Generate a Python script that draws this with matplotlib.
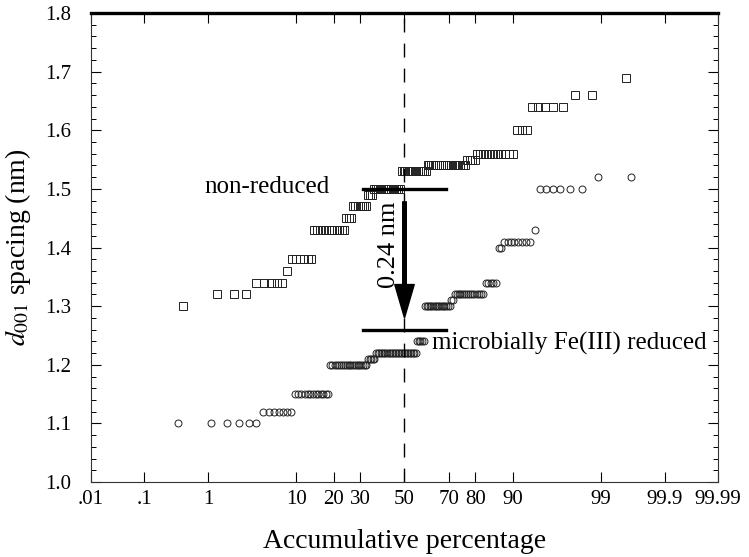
"""Probability plot of d001 spacing, non-reduced vs microbially reduced."""
from statistics import NormalDist

import numpy as np
from matplotlib import pyplot as plt

# d001 levels (nm) and number of measurements at each level
SQUARE_LEVELS = [1.30, 1.32, 1.34, 1.36, 1.38, 1.43, 1.45, 1.47, 1.49, 1.50,
                 1.53, 1.54, 1.55, 1.56, 1.60, 1.64, 1.66, 1.69]
SQUARE_COUNTS = [1, 3, 5, 1, 6, 12, 3, 7, 3, 15,
                 14, 19, 4, 12, 3, 5, 2, 1]

CIRCLE_LEVELS = [1.10, 1.12, 1.15, 1.20, 1.21, 1.22, 1.24, 1.30, 1.31, 1.32,
                 1.34, 1.40, 1.41, 1.43, 1.50, 1.52]
CIRCLE_COUNTS = [6, 7, 13, 20, 5, 27, 5, 16, 2, 15,
                 5, 2, 8, 1, 6, 2]

X_TICKS = [0.01, 0.1, 1, 10, 20, 30, 50, 70, 80, 90, 99, 99.9, 99.99]
X_TICK_LABELS = ['.01', '.1', '1', '10', '20', '30', '50', '70', '80', '90',
                 '99', '99.9', '99.99']

ND = NormalDist()


def prob_forward(p):
    p = np.clip(np.asarray(p, dtype=float), 1e-6, 100 - 1e-6)
    return np.vectorize(lambda v: ND.inv_cdf(v / 100), otypes=[float])(p)


def prob_inverse(z):
    z = np.asarray(z, dtype=float)
    return np.vectorize(lambda v: ND.cdf(v) * 100, otypes=[float])(z)


def accumulative(levels, counts):
    """Sorted sample and its accumulative percentage (i - 0.5) / n."""
    d = np.repeat(levels, counts)
    n = len(d)
    pct = (np.arange(1, n + 1) - 0.5) / n * 100
    return pct, d


plt.rcParams['font.family'] = ['Liberation Serif', 'DejaVu Serif']
plt.rcParams['mathtext.fontset'] = 'stix'

fig = plt.figure(figsize=(7.49, 5.57), dpi=100)
ax = fig.add_axes([0.1215, 0.1346, 0.8371, 0.842])
ax.set_xscale('function', functions=(prob_forward, prob_inverse))

sq_x, sq_y = accumulative(SQUARE_LEVELS, SQUARE_COUNTS)
ci_x, ci_y = accumulative(CIRCLE_LEVELS, CIRCLE_COUNTS)

ax.plot(sq_x, sq_y, ls='none', marker='s', markersize=5.5,
        markerfacecolor='none', markeredgecolor='#222222',
        markeredgewidth=0.7)
ax.plot(ci_x, ci_y, ls='none', marker='o', markersize=5,
        markerfacecolor='none', markeredgecolor='#222222',
        markeredgewidth=0.7)

# median line and the two reference levels
ax.axvline(50, color='black', lw=1.0, ls=(0, (10, 8)))
ax.plot([31, 69], [1.50, 1.50], color='black', lw=2.4)
ax.plot([31, 69], [1.26, 1.26], color='black', lw=2.4)
ax.annotate('', xy=(50, 1.28), xytext=(50, 1.478),
            arrowprops=dict(facecolor='black', edgecolor='black', width=2.6,
                            headwidth=14, headlength=24, shrink=0))

ax.text(18.7, 1.503, 'non-reduced', fontsize=18, ha='right', va='center')
ax.text(63, 1.236, 'microbially Fe(III) reduced', fontsize=18,
        ha='left', va='center')
ax.text(42.5, 1.404, '0.24 nm', fontsize=19, rotation=90,
        ha='center', va='center')

ax.set_xlim(0.01, 99.99)
ax.set_ylim(1.0, 1.8)
ax.set_xticks(X_TICKS)
ax.set_xticklabels(X_TICK_LABELS)
ax.xaxis.set_minor_locator(plt.NullLocator())
ax.set_yticks(np.arange(1.0, 1.81, 0.1))
ax.set_yticklabels(['%.1f' % v for v in np.arange(1.0, 1.81, 0.1)])
ax.set_yticks(np.arange(1.0, 1.801, 0.02), minor=True)

ax.tick_params(axis='both', which='major', direction='in', top=True,
               right=True, labelsize=15, length=7, width=0.8)
ax.tick_params(axis='y', which='minor', direction='in', right=True,
               length=3.5, width=0.7)
ax.tick_params(axis='x', pad=6)
ax.tick_params(axis='y', pad=14)

for side in ['left', 'right', 'bottom']:
    ax.spines[side].set_linewidth(0.8)
    ax.spines[side].set_color('#333333')
ax.spines['top'].set_linewidth(2.4)

ax.set_xlabel('Accumulative percentage', fontsize=20)
ax.xaxis.set_label_coords(0.5, -0.1)
ax.set_ylabel(r'$d_{001}$ spacing (nm)', fontsize=20)
ax.yaxis.set_label_coords(-0.092, 0.5)

fig.savefig('out.png', dpi=100)
